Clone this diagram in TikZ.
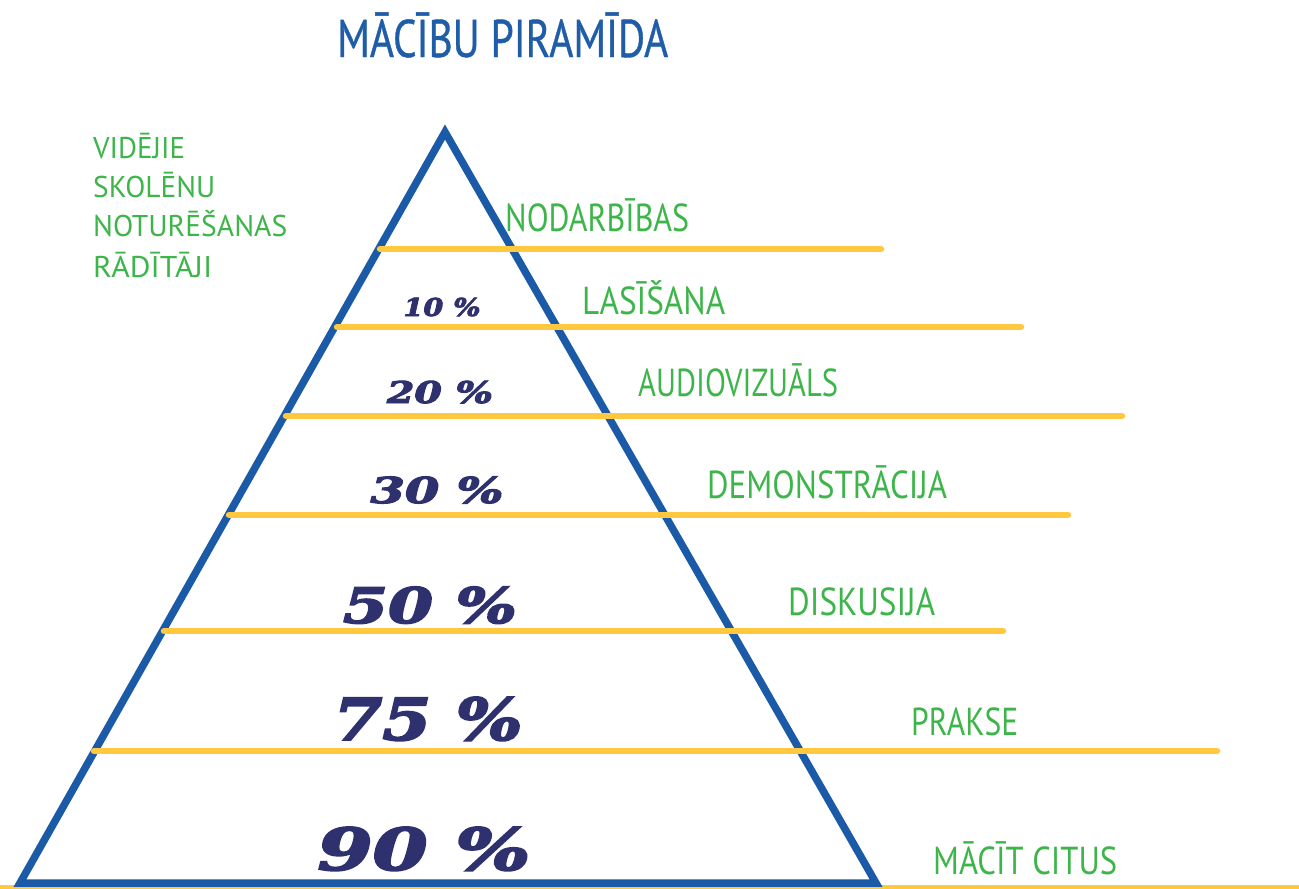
\documentclass[tikz,border=0pt]{standalone}
\usepackage{fontspec}
\usepackage{graphicx}
\newfontfamily\lblfont{PT Sans}
\newfontfamily\ttlfont{PT Sans}[FakeBold=0.8]
\newfontfamily\pctfont{DejaVu Serif}[ItalicFeatures={FakeBold=3}, BoldItalicFeatures={FakeBold=3}]
\newlength\fitlen
\newcommand\fitto[2]{\settowidth\fitlen{#2}\pgfmathsetmacro\fitratio{#1/\fitlen}\scalebox{\fitratio}[1]{#2}}
\definecolor{pyrblue}{HTML}{1B5AA6}
\definecolor{ttlblue}{HTML}{1F5DA8}
\definecolor{lblgreen}{HTML}{3DB54A}
\definecolor{lineyellow}{HTML}{FFC83E}
\definecolor{pctnavy}{HTML}{2E316E}
\tikzset{
  lbl/.style={font=\lblfont\fontsize{39}{39}\selectfont, text=lblgreen, inner sep=0pt, anchor=base west},
  sidelbl/.style={font=\lblfont\fontsize{30}{30}\selectfont, text=lblgreen, inner sep=0pt, anchor=base west},
  pct/.style={font=\pctfont\bfseries\itshape\fontsize{#1}{#1}\selectfont, text=pctnavy, inner sep=0pt, anchor=base},
  band/.style={draw=lineyellow, line width=6.5pt, line cap=round},
  pyr/.style={draw=pyrblue, line width=7.5pt, line join=miter}
}
\begin{document}
\begin{tikzpicture}[x=1pt,y=-1pt]
\useasboundingbox (0,0) rectangle (1299,889);
\fill[white] (0,0) rectangle (1299,889);
% title
\node[font=\ttlfont\fontsize{53}{53}\selectfont, text=ttlblue, inner sep=0pt, anchor=base west] (title) at (337,57) {\fitto{331}{MĀCĪBU PIRAMĪDA}};
% side text
\node[sidelbl] (s1) at (93,158) {\fitto{92}{VIDĒJIE}};
\node[sidelbl] (s2) at (93,197) {\fitto{122}{SKOLĒNU}};
\node[sidelbl] (s3) at (93,236) {\fitto{194}{NOTURĒŠANAS}};
\node[sidelbl] (s4) at (93,277) {\fitto{119}{RĀDĪTĀJI}};
% pyramid corners
\coordinate (A) at (445,132);
\coordinate (BL) at (20,883);
\coordinate (BR) at (876,883);
% bottom yellow line
\coordinate (y0a) at (0,887);
\coordinate (y0b) at (1299,887);
\draw[draw=lineyellow, line width=4.5pt] (y0a) -- (y0b);
% pyramid
\draw[pyr] (A) -- (BR) -- (BL) -- cycle;
% yellow bands
\coordinate (y1a) at (380,249); \coordinate (y1b) at (881,249);
\coordinate (y2a) at (337,327); \coordinate (y2b) at (1021,327);
\coordinate (y3a) at (286,416); \coordinate (y3b) at (1122,416);
\coordinate (y4a) at (229,515); \coordinate (y4b) at (1068,515);
\coordinate (y5a) at (164,631); \coordinate (y5b) at (1003,631);
\coordinate (y6a) at (94,751); \coordinate (y6b) at (1217,751);
\draw[band] (y1a) -- (y1b);
\draw[band] (y2a) -- (y2b);
\draw[band] (y3a) -- (y3b);
\draw[band] (y4a) -- (y4b);
\draw[band] (y5a) -- (y5b);
\draw[band] (y6a) -- (y6b);
% activity labels
\node[lbl] (l1) at (505,231) {\fitto{184}{NODARBĪBAS}};
\node[lbl] (l2) at (582,314) {\fitto{143}{LASĪŠANA}};
\node[lbl] (l3) at (638,396) {\fitto{200}{AUDIOVIZUĀLS}};
\node[lbl] (l4) at (707,498) {\fitto{240}{DEMONSTRĀCIJA}};
\node[lbl] (l5) at (788,615) {\fitto{147}{DISKUSIJA}};
\node[lbl] (l6) at (911,735) {\fitto{107}{PRAKSE}};
\node[lbl] (l7) at (933,874) {\fitto{184}{MĀCĪT CITUS}};
% percentages
\node[pct=24.7] (p10) at (442,316) {\fitto{77}{10 \%}};
\node[pct=30] (p20) at (440,403) {\fitto{106}{20 \%}};
\node[pct=35.7] (p30) at (437,503) {\fitto{133}{30 \%}};
\node[pct=49] (p50) at (430,623) {\fitto{174}{50 \%}};
\node[pct=58] (p75) at (428,740) {\fitto{189}{75 \%}};
\node[pct=58] (p90) at (424,870) {\fitto{213}{90 \%}};
\end{tikzpicture}
\end{document}
